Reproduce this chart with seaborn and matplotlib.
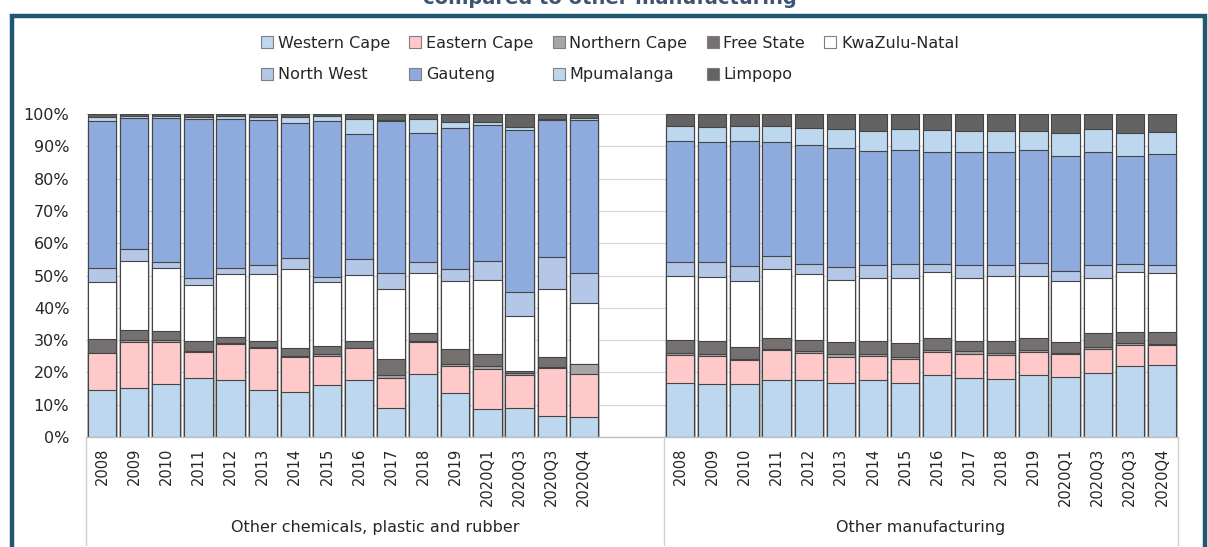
import numpy as np
import pandas as pd
import matplotlib
matplotlib.use("Agg")
import matplotlib.pyplot as plt
import matplotlib.transforms as mtransforms
from matplotlib.patches import Rectangle, Patch
import seaborn as sns

# Data (share of sector output by province, %)
periods = ["2008", "2009", "2010", "2011", "2012", "2013", "2014", "2015",
           "2016", "2017", "2018", "2019", "2020Q1", "2020Q3", "2020Q3", "2020Q4"]
sectors = ["Other chemicals, plastic and rubber", "Other manufacturing"]
provinces = ["Western Cape", "Eastern Cape", "Northern Cape", "Free State",
             "KwaZulu-Natal", "North West", "Gauteng", "Mpumalanga", "Limpopo"]

# first 16 values: chemicals, plastic and rubber; last 16: other manufacturing
western_cape = [14.5, 15.2, 16.5, 18.3, 17.8, 14.5, 14.0, 16.2, 17.5, 9.1, 19.5, 13.7, 8.6, 9.1, 6.4, 6.1,
                16.8, 16.4, 16.4, 17.5, 17.5, 16.8, 17.5, 16.8, 19.3, 18.4, 18.1, 19.1, 18.7, 19.9, 22.0, 22.2]
eastern_cape = [11.4, 14.1, 12.8, 8.1, 11.1, 13.1, 10.8, 8.9, 9.9, 9.2, 9.8, 8.2, 12.6, 10.0, 15.0, 13.4,
                8.5, 8.7, 7.5, 9.3, 8.5, 8.1, 7.6, 7.5, 7.1, 7.3, 7.2, 7.1, 7.0, 7.3, 6.6, 6.2]
northern_cape = [0.2, 0.6, 0.6, 0.3, 0.2, 0.2, 0.3, 0.6, 0.2, 0.8, 0.4, 0.7, 0.8, 0.7, 0.3, 3.1,
                 0.6, 0.5, 0.4, 0.5, 0.7, 0.7, 0.6, 0.6, 0.6, 1.0, 0.6, 0.6, 0.4, 0.7, 0.6, 0.5]
free_state = [4.2, 3.2, 2.9, 3.0, 2.0, 1.9, 2.6, 2.5, 2.2, 4.9, 2.6, 4.5, 3.6, 0.7, 3.0, 0.1,
              4.2, 4.0, 3.7, 3.5, 3.3, 3.7, 4.1, 4.2, 3.5, 3.1, 3.9, 3.7, 3.4, 4.2, 3.4, 3.5]
kwazulu_natal = [17.8, 21.4, 19.4, 17.4, 19.3, 20.7, 24.3, 19.9, 20.3, 21.9, 18.4, 21.1, 23.1, 17.0, 21.2, 18.7,
                 19.6, 19.9, 20.4, 21.1, 20.4, 19.3, 19.5, 20.2, 20.5, 19.5, 19.9, 19.2, 18.7, 17.2, 18.6, 18.4]
north_west = [4.1, 3.7, 2.1, 2.0, 1.8, 2.7, 3.5, 1.5, 4.9, 4.8, 3.4, 3.8, 5.9, 7.3, 9.7, 9.5,
              4.4, 4.6, 4.4, 4.0, 3.3, 3.9, 3.9, 4.2, 2.5, 3.8, 3.4, 4.2, 3.3, 3.8, 2.3, 2.5]
gauteng = [45.7, 40.6, 44.5, 49.3, 46.4, 45.0, 41.7, 48.1, 38.9, 47.1, 40.0, 43.8, 41.9, 50.1, 42.5, 47.2,
           37.6, 37.1, 38.7, 35.4, 36.8, 37.0, 35.4, 35.4, 34.7, 35.1, 35.1, 34.8, 35.6, 35.1, 33.6, 34.3]
mpumalanga = [1.1, 0.7, 0.7, 0.7, 0.7, 1.0, 1.8, 1.6, 4.4, 0.3, 4.3, 1.7, 0.9, 1.0, 0.2, 0.7,
              4.7, 4.8, 4.8, 5.0, 5.2, 5.8, 6.2, 6.4, 6.7, 6.6, 6.6, 6.1, 6.9, 7.1, 7.0, 6.8]
limpopo = [1.0, 0.5, 0.5, 0.9, 0.7, 0.9, 1.0, 0.7, 1.7, 1.9, 1.6, 2.5, 2.6, 4.1, 1.7, 1.2,
           3.6, 4.0, 3.7, 3.7, 4.3, 4.7, 5.2, 4.7, 5.1, 5.2, 5.2, 5.2, 6.0, 4.7, 5.9, 5.6]

colors = ["#BDD7EE", "#FFC9CA", "#A6A6A6", "#767171", "#FFFFFF",
          "#B4C7E7", "#8FAADC", "#BDD7EE", "#636363"]

sns.set_theme(style="white")
plt.rcParams["font.family"] = ["DejaVu Sans"]

# x slots: group 1 at 0-15, two empty slots, group 2 at 18-33
xpos = list(range(16)) + list(range(18, 34))

shares = np.array([western_cape, eastern_cape, northern_cape, free_state, kwazulu_natal,
                   north_west, gauteng, mpumalanga, limpopo])
shares = shares / shares.sum(axis=0) * 100
cum = shares.cumsum(axis=0)

rows = []
for i, prov in enumerate(provinces):
    for j, x in enumerate(xpos):
        rows.append({"province": prov, "x": x, "top": cum[i, j]})
df = pd.DataFrame(rows)

fig = plt.figure(figsize=(12.08, 5.47), dpi=100)
ax = fig.add_axes([86 / 1208, 1 - 437 / 547, (1178 - 86) / 1208, (437 - 114) / 547])

# stacked bars: draw cumulative tops from the top layer down
for i in reversed(range(len(provinces))):
    sub = df[df["province"] == provinces[i]]
    sns.barplot(data=sub, x="x", y="top", native_scale=True, color=colors[i],
                saturation=1, width=0.88, edgecolor="#444444", linewidth=0.8,
                errorbar=None, ax=ax)

ax.set_xlim(-0.5, 33.5)
ax.set_ylim(0, 100)
ax.set_yticks(range(0, 101, 10))
ax.set_yticklabels([f"{v}%" for v in range(0, 101, 10)], fontsize=11.5)
ax.set_xticks(xpos)
ax.set_xticklabels(periods + periods, rotation=90, fontsize=10.5, va="top")
ax.tick_params(axis="both", length=0)
ax.tick_params(axis="y", pad=12)
ax.tick_params(axis="x", pad=8)
ax.set_xlabel("")
ax.set_ylabel("")
ax.set_axisbelow(True)
ax.yaxis.grid(True, color="#D9D9D9", linewidth=0.9)
for s in ["left", "right", "top"]:
    ax.spines[s].set_visible(False)
ax.spines["bottom"].set_color("#BFBFBF")
ax.spines["bottom"].set_linewidth(1)

# group separators and sector labels below the axis
trans = mtransforms.blended_transform_factory(ax.transData, ax.transAxes)
for xs in [-0.5, 17.5, 33.5]:
    ax.plot([xs, xs], [0, -0.335], transform=trans, color="#D0D0D0",
            linewidth=1, clip_on=False)
ax.text(8.5, -0.279, sectors[0], transform=trans, ha="center", va="center", fontsize=11.5)
ax.text(25.5, -0.279, sectors[1], transform=trans, ha="center", va="center", fontsize=11.5)

# legend, filled row by row like the original
handles = [Patch(facecolor=c, edgecolor="#7F7F7F", linewidth=0.8) for c in colors]
order = [0, 5, 1, 6, 2, 7, 3, 8, 4]
fig.legend([handles[k] for k in order], [provinces[k] for k in order],
           ncol=5, loc="center", bbox_to_anchor=(0.505, 1 - 59 / 547),
           frameon=False, fontsize=11.5, handlelength=0.75, handleheight=0.75,
           handletextpad=0.3, columnspacing=1.2, labelspacing=1.05)

# cut-off title and chart frame
fig.text(0.505, 1 - 4 / 547, "compared to other manufacturing", ha="center",
         va="baseline", fontsize=14, fontweight="bold", color="#3E5473")
fig.patches.append(Rectangle((12 / 1208, -0.05), (1205 - 12) / 1208, 1.05 - 16 / 547,
                             transform=fig.transFigure, fill=False,
                             edgecolor="#1F5773", linewidth=3.2, zorder=10))

fig.savefig("out.png", dpi=100)
